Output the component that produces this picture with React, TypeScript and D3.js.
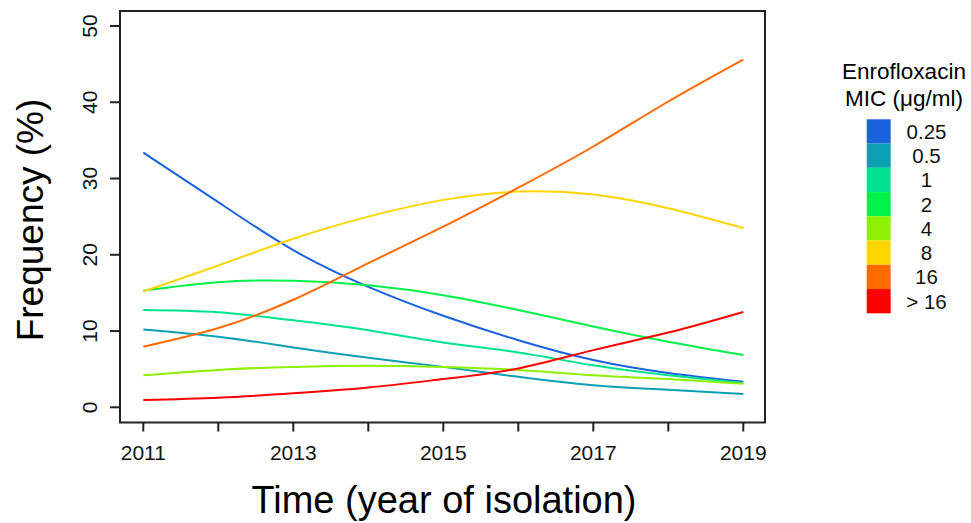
import React, { useEffect, useRef } from 'react';
import * as d3 from 'd3';

const years = [2011, 2012, 2013, 2014, 2015, 2016, 2017, 2018, 2019];
const micLabels = ['0.25', '0.5', '1', '2', '4', '8', '16', '> 16'];
const micColors = ['#1a62de', '#0aa0b4', '#00e38e', '#00f24a', '#8cf000', '#ffd500', '#ff6a00', '#ff0000'];

// frequency (%) per year, one array per MIC class
const mic025 = [33.4, 26.9, 20.6, 15.8, 12.0, 8.8, 6.2, 4.5, 3.35];
const mic05 = [10.2, 9.25, 7.85, 6.5, 5.3, 4.0, 2.9, 2.3, 1.75];
const mic1 = [12.75, 12.45, 11.4, 10.1, 8.5, 7.2, 5.5, 4.2, 3.2];
const mic2 = [15.3, 16.4, 16.6, 16.0, 14.7, 12.75, 10.6, 8.6, 6.85];
const mic4 = [4.2, 4.9, 5.3, 5.45, 5.3, 4.9, 4.2, 3.7, 3.1];
const mic8 = [15.2, 18.6, 22.1, 25.0, 27.2, 28.3, 27.9, 26.1, 23.5];
const mic16 = [7.95, 10.4, 14.1, 18.9, 23.7, 28.8, 34.2, 40.1, 45.6];
const micOver16 = [0.96, 1.26, 1.83, 2.6, 3.7, 5.1, 7.5, 9.8, 12.5];

const series = [mic025, mic05, mic1, mic2, mic4, mic8, mic16, micOver16];

const xTicks = [2011, 2012, 2013, 2014, 2015, 2016, 2017, 2018, 2019];
const xTickLabels = ['2011', '', '2013', '', '2015', '', '2017', '', '2019'];
const yTicks = [0, 10, 20, 30, 40, 50];

const FONT = '"Liberation Sans", Arial, Helvetica, sans-serif';

const App = () => {
  const ref = useRef<SVGSVGElement | null>(null);

  useEffect(() => {
    const svg = d3.select(ref.current);
    svg.selectAll('*').remove();

    const box = { left: 120, right: 765, top: 11, bottom: 422.5 };

    const x = d3.scaleLinear().domain([2011, 2019]).range([143.3, 743.3]);
    const y = d3.scaleLinear().domain([0, 50]).range([407.3, 26]);

    // curves
    const line = d3.line<number>()
      .x((d, i) => x(years[i]))
      .y((d) => y(d))
      .curve(d3.curveNatural);

    series.forEach((s, i) => {
      svg.append('path')
        .attr('d', line(s))
        .attr('fill', 'none')
        .attr('stroke', micColors[i])
        .attr('stroke-width', 2);
    });

    // box
    svg.append('rect')
      .attr('x', box.left)
      .attr('y', box.top)
      .attr('width', box.right - box.left)
      .attr('height', box.bottom - box.top)
      .attr('fill', 'none')
      .attr('stroke', '#222')
      .attr('stroke-width', 2);

    // x axis
    const xAxis = svg.append('g').attr('font-family', FONT);
    xTicks.forEach((t, i) => {
      xAxis.append('line')
        .attr('x1', x(t)).attr('x2', x(t))
        .attr('y1', box.bottom).attr('y2', box.bottom + 9)
        .attr('stroke', '#222')
        .attr('stroke-width', 2);
      if (xTickLabels[i]) {
        xAxis.append('text')
          .attr('x', x(t))
          .attr('y', 460)
          .attr('text-anchor', 'middle')
          .attr('font-size', 21)
          .attr('fill', '#111')
          .text(xTickLabels[i]);
      }
    });

    // y axis
    const yAxis = svg.append('g').attr('font-family', FONT);
    yTicks.forEach((t) => {
      yAxis.append('line')
        .attr('x1', box.left - 10).attr('x2', box.left)
        .attr('y1', y(t)).attr('y2', y(t))
        .attr('stroke', '#222')
        .attr('stroke-width', 2);
      yAxis.append('text')
        .attr('transform', `translate(97,${y(t)}) rotate(-90)`)
        .attr('text-anchor', 'middle')
        .attr('font-size', 21)
        .attr('fill', '#111')
        .text(t);
    });

    // axis titles
    svg.append('text')
      .attr('x', 444)
      .attr('y', 513)
      .attr('text-anchor', 'middle')
      .attr('font-family', FONT)
      .attr('font-size', 38)
      .attr('fill', '#000')
      .text('Time (year of isolation)');

    svg.append('text')
      .attr('transform', 'translate(43,220) rotate(-90)')
      .attr('text-anchor', 'middle')
      .attr('font-family', FONT)
      .attr('font-size', 37)
      .attr('fill', '#000')
      .text('Frequency (%)');

    // legend
    const legend = svg.append('g').attr('font-family', FONT);
    legend.append('text')
      .attr('x', 904).attr('y', 79)
      .attr('text-anchor', 'middle')
      .attr('font-size', 22.5)
      .text('Enrofloxacin');
    legend.append('text')
      .attr('x', 904).attr('y', 106)
      .attr('text-anchor', 'middle')
      .attr('font-size', 22.5)
      .text('MIC (\u03bcg/ml)');

    const keyH = 24.25;
    micLabels.forEach((lab, i) => {
      legend.append('rect')
        .attr('x', 866.7)
        .attr('y', 119.3 + i * keyH)
        .attr('width', 24)
        .attr('height', keyH)
        .attr('fill', micColors[i]);
      legend.append('text')
        .attr('x', 926.5)
        .attr('y', 119.3 + (i + 0.5) * keyH)
        .attr('dy', '0.36em')
        .attr('text-anchor', 'middle')
        .attr('font-size', 20.5)
        .attr('fill', '#111')
        .text(lab);
    });
  }, []);

  return (
    <svg
      ref={ref}
      width={971}
      height={523}
      style={{ position: 'absolute', left: 0, top: 0, background: '#fff' }}
    />
  );
};

export default App;
